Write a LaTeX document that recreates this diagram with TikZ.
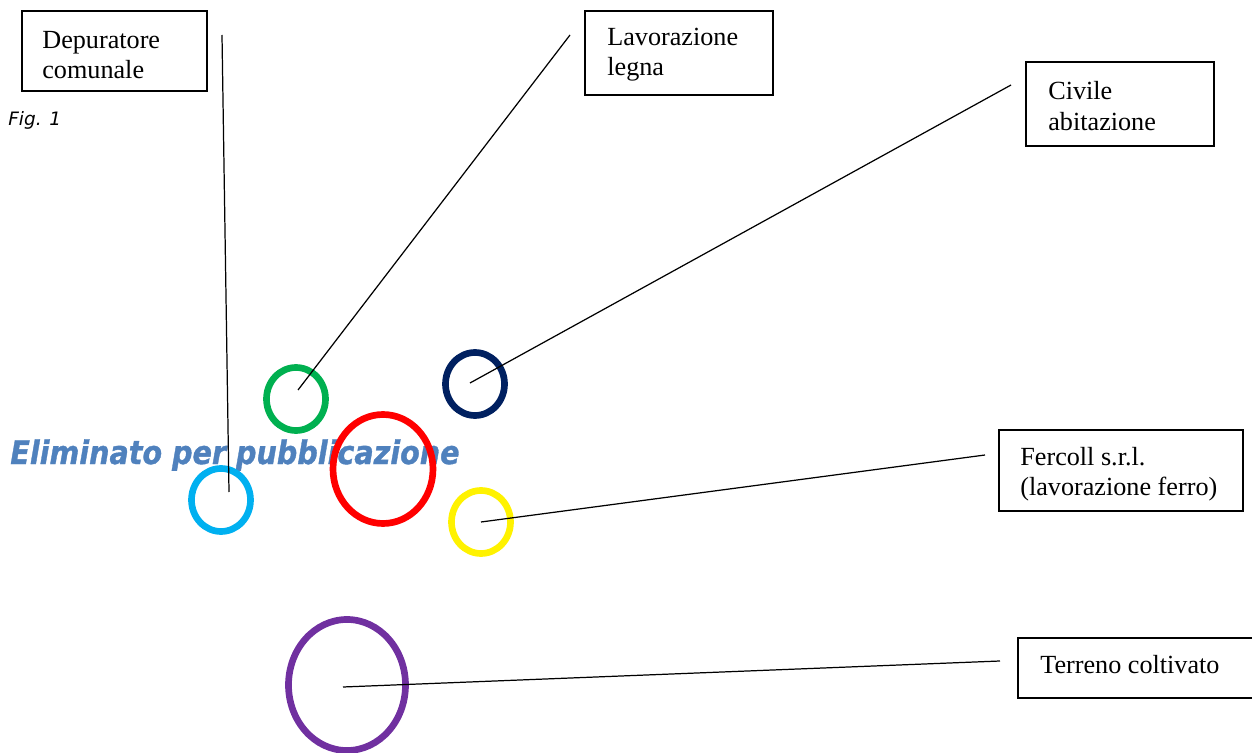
\documentclass[tikz,border=0pt]{standalone}
\usepackage{fontspec}
\setmainfont{Liberation Serif}
\newfontfamily\verd{DejaVu Sans}
\newfontfamily\elimfont[BoldItalicFeatures={FakeBold=1.2}]{DejaVu Sans}
\begin{document}
\begin{tikzpicture}[x=0.02cm,y=-0.02cm,
  lbl/.style={anchor=west,font=\fontsize{14.9}{17.2}\selectfont,align=left,inner sep=0pt},
  frame/.style={line width=0.7pt},
  ring/.style={line width=3.8pt},
  leader/.style={line width=0.7pt}]
\useasboundingbox (0,0) rectangle (1252,753);
% boxes
\draw[frame] (22,11) rectangle (207,91);
\node[lbl] (dep) at (42,55) {Depuratore\\comunale};
\draw[frame] (585,11) rectangle (773,95);
\node[lbl] (lav) at (607,55) {Lavorazione\\legna};
\draw[frame] (1026,62) rectangle (1214,146);
\node[lbl] (civ) at (1048,106) {Civile\\abitazione};
\draw[frame] (999,430) rectangle (1243,511);
\node[lbl] (fer) at (1020,474) {Fercoll s.r.l.\\(lavorazione ferro)};
\draw[frame] (1018,638) rectangle (1260,698);
\node[lbl] (ter) at (1040,665) {Terreno coltivato};
% labels
\node[anchor=west,font=\verd\itshape\fontsize{10.5}{12}\selectfont,inner sep=0pt] (fig) at (8,120) {Fig. 1};
\node[anchor=base west,inner sep=0pt,font=\elimfont\bfseries\itshape\fontsize{18.5}{22}\selectfont,text={rgb,255:red,79;green,129;blue,189}] (elim) at (10,464) {\scalebox{0.88}[1]{Eliminato per pubblicazione}};
% rings
\draw[ring,color={rgb,255:red,0;green,176;blue,80}] (296,399) ellipse [x radius=29.5,y radius=31.5];
\draw[ring,color={rgb,255:red,0;green,32;blue,96}] (475,384) ellipse [x radius=29.5,y radius=31.5];
\draw[ring,color=red] (383,469) ellipse [x radius=50,y radius=54.5];
\draw[ring,color={rgb,255:red,0;green,176;blue,240}] (221,500) ellipse [x radius=29.5,y radius=31.5];
\draw[ring,color=yellow] (481,522) ellipse [x radius=29.5,y radius=31.5];
\draw[ring,color={rgb,255:red,112;green,48;blue,160}] (347,685) ellipse [x radius=58.5,y radius=65.5];
% leader ends
\coordinate (d1) at (222,35); \coordinate (d2) at (229,492);
\coordinate (l1) at (570,35); \coordinate (l2) at (298,390);
\coordinate (c1) at (1011,85); \coordinate (c2) at (470,383);
\coordinate (f1) at (985,455); \coordinate (f2) at (481,522);
\coordinate (t1) at (1000,661); \coordinate (t2) at (343,687);
\draw[leader] (d1) -- (d2);
\draw[leader] (l1) -- (l2);
\draw[leader] (c1) -- (c2);
\draw[leader] (f1) -- (f2);
\draw[leader] (t1) -- (t2);
\end{tikzpicture}
\end{document}
